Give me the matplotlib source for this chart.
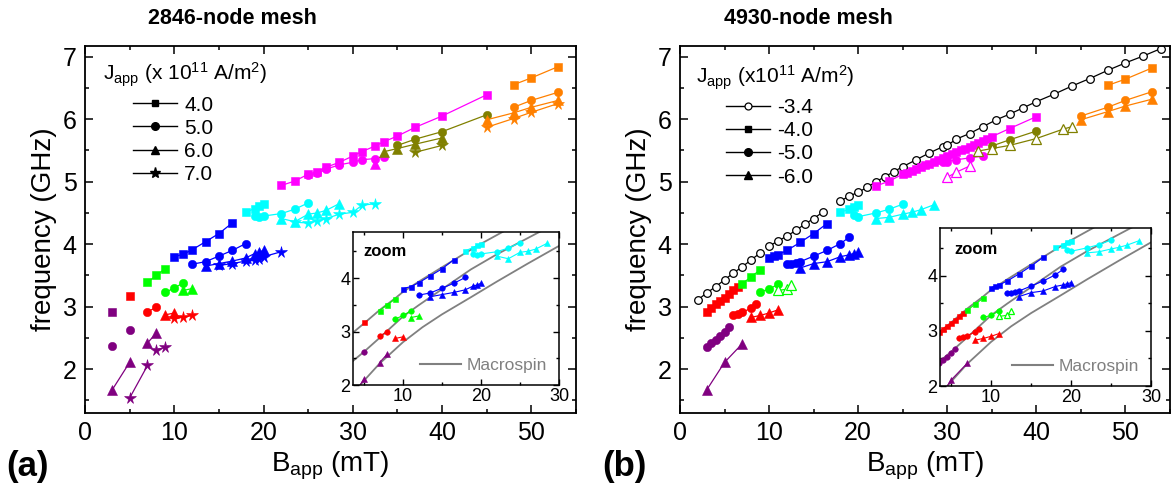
import matplotlib
matplotlib.use('Agg')
import matplotlib.pyplot as plt
from matplotlib.ticker import MultipleLocator
from matplotlib.lines import Line2D

plt.rcParams['font.family'] = ['Liberation Sans', 'DejaVu Sans']
plt.rcParams['mathtext.fontset'] = 'custom'
plt.rcParams['mathtext.rm'] = 'Liberation Sans'
plt.rcParams['mathtext.it'] = 'Liberation Sans:italic'
plt.rcParams['mathtext.bf'] = 'Liberation Sans:bold'

# ---------------- data ----------------
# each segment: (branch, B values [mT], f values [GHz], hollow marker?)
# panel (a): 2846-node mesh
A_J40 = [
    ('P', [3], [2.92]),
    ('R', [5], [3.17]),
    ('G', [7, 8, 9], [3.39, 3.50, 3.61]),
    ('B', [10, 11, 12, 13.5, 15, 16.5], [3.80, 3.84, 3.91, 4.04, 4.17, 4.34]),
    ('C', [18, 19, 19.5, 20], [4.51, 4.57, 4.61, 4.64]),
    ('M', [22, 23.5, 25, 26, 27, 28.5, 30, 31, 32.5, 33.5, 35, 37, 40, 45],
          [4.94, 5.01, 5.12, 5.16, 5.23, 5.31, 5.41, 5.48, 5.57, 5.64, 5.73, 5.87, 6.05, 6.39]),
    ('O', [48, 50, 53], [6.55, 6.66, 6.84]),
]
A_J50 = [
    ('P', [3], [2.37]),
    ('P', [5], [2.62]),
    ('R', [7, 8], [2.92, 2.99]),
    ('G', [9, 10, 11], [3.23, 3.30, 3.38]),
    ('B', [12, 13.5, 15, 16.5, 18], [3.68, 3.72, 3.81, 3.90, 4.01]),
    ('C', [19, 19.5, 20, 22, 23.5, 25], [4.45, 4.43, 4.45, 4.49, 4.56, 4.66]),
    ('M', [25, 26, 27, 28.5, 30, 31, 32.5, 33.5], [5.10, 5.14, 5.20, 5.27, 5.31, 5.35, 5.37, 5.40]),
    ('L', [35, 37, 40, 45], [5.58, 5.68, 5.80, 6.07]),
    ('O', [48, 50, 53], [6.19, 6.30, 6.43]),
]
A_J60 = [
    ('P', [3, 5], [1.66, 2.11]),
    ('P', [7, 8], [2.42, 2.58]),
    ('R', [9, 10], [2.87, 2.90]),
    ('G', [11, 12], [3.26, 3.29]),
    ('B', [13.5, 15, 16.5, 18, 19, 19.5, 20], [3.65, 3.69, 3.73, 3.78, 3.85, 3.87, 3.90]),
    ('C', [22, 23.5, 25, 26, 27, 28.5], [4.41, 4.36, 4.48, 4.50, 4.54, 4.65]),
    ('M', [32.5], [5.28]),
    ('L', [33.5, 35, 37, 40], [5.48, 5.53, 5.60, 5.70]),
    ('O', [45, 48, 50, 53], [5.99, 6.10, 6.19, 6.30]),
]
A_J70 = [
    ('P', [5, 7], [1.54, 2.06]),
    ('P', [8, 9], [2.31, 2.35]),
    ('R', [10, 11, 12], [2.82, 2.83, 2.86]),
    ('B', [15, 16.5, 18, 19, 19.5, 20, 22], [3.66, 3.69, 3.73, 3.74, 3.76, 3.80, 3.88]),
    ('C', [23.5, 25, 26, 27, 28.5, 30, 31, 32.5], [4.35, 4.34, 4.37, 4.41, 4.48, 4.51, 4.62, 4.65]),
    ('L', [37, 40], [5.47, 5.58]),
    ('O', [45, 48, 50, 53], [5.87, 6.01, 6.11, 6.25]),
]

# panel (b): 4930-node mesh
B_J34 = [
    ('K', [2, 3, 4, 5, 6, 7, 8, 9], [3.11, 3.22, 3.32, 3.43, 3.54, 3.64, 3.75, 3.86], True),
    ('K', [10, 11, 12, 13, 14, 15, 16], [3.97, 4.05, 4.13, 4.22, 4.32, 4.41, 4.51], True),
    ('K', [18, 19, 20, 21, 22, 23, 24, 25, 26.5, 28, 29.5, 30, 31, 32.5, 34, 35.5, 37, 38.5,
           40, 42, 44, 46, 48, 50, 52, 54],
          [4.69, 4.77, 4.83, 4.91, 5.00, 5.08, 5.16, 5.24, 5.35, 5.46, 5.56, 5.58, 5.68, 5.77,
           5.88, 5.99, 6.08, 6.18, 6.28, 6.40, 6.53, 6.65, 6.78, 6.90, 7.01, 7.13], True),
]
B_J40 = [
    ('R', [3, 3.5, 4, 4.5, 5, 5.5, 6, 6.5], [2.92, 2.98, 3.04, 3.09, 3.14, 3.20, 3.26, 3.32]),
    ('G', [7, 8, 9], [3.37, 3.48, 3.59]),
    ('B', [10, 10.5, 11, 12, 13.5, 15, 16.5], [3.78, 3.81, 3.83, 3.90, 4.03, 4.17, 4.33]),
    ('C', [18, 19, 19.5, 20], [4.51, 4.56, 4.60, 4.63]),
    ('M', [22, 23.5, 25, 25.5, 26, 26.5, 27, 27.5, 28, 28.5, 29, 29.5, 30, 30.5, 31, 31.5,
           32, 32.5, 33, 33.5, 34, 34.5, 35, 37, 40],
          [4.93, 5.01, 5.12, 5.14, 5.17, 5.20, 5.23, 5.26, 5.29, 5.32, 5.35, 5.38, 5.41, 5.44,
           5.47, 5.50, 5.53, 5.56, 5.59, 5.62, 5.65, 5.68, 5.72, 5.85, 6.04]),
    ('O', [48, 50, 53], [6.54, 6.64, 6.82]),
]
B_J50 = [
    ('P', [3, 3.5, 4, 4.5, 5, 5.5], [2.36, 2.42, 2.47, 2.53, 2.59, 2.67]),
    ('R', [6, 6.5, 7, 8, 8.5], [2.86, 2.88, 2.91, 2.98, 3.04]),
    ('G', [9, 10, 11], [3.24, 3.28, 3.36]),
    ('B', [12, 12.5, 13, 13.5, 15, 16.5, 18, 19], [3.68, 3.69, 3.70, 3.72, 3.81, 3.90, 4.01, 4.11]),
    ('C', [19.5, 20, 22, 23.5, 25], [4.46, 4.44, 4.50, 4.56, 4.64]),
    ('M', [29.5, 30, 31, 32.5, 34], [5.31, 5.32, 5.35, 5.38, 5.41]),
    ('L', [35, 37, 40], [5.57, 5.67, 5.81]),
    ('O', [45, 48, 50, 53], [6.05, 6.19, 6.30, 6.44]),
]
B_J60 = [
    ('P', [3, 5, 7], [1.67, 2.11, 2.41]),
    ('R', [8, 9, 10, 11], [2.83, 2.86, 2.90, 2.95]),
    ('G', [11, 12, 12.5], [3.26, 3.28, 3.35], True),
    ('B', [13.5, 15, 16.5, 18, 19, 19.5, 20], [3.62, 3.69, 3.72, 3.80, 3.83, 3.85, 3.87]),
    ('C', [22, 23.5, 25, 26, 27, 28.5], [4.41, 4.43, 4.48, 4.51, 4.55, 4.63]),
    ('M', [30, 31, 32.5], [5.07, 5.15, 5.25], True),
    ('L', [33.5, 35, 37, 40, 43, 44], [5.49, 5.53, 5.58, 5.69, 5.84, 5.88], True),
    ('O', [45, 48, 50, 53], [5.99, 6.12, 6.21, 6.32]),
]

# macrospin curves (read along the grey lines of the insets)
MS1_B = [3.6, 5, 7, 9, 10, 12, 15, 17.8, 20, 23]
MS1_F = [2.98, 3.15, 3.40, 3.62, 3.74, 3.93, 4.20, 4.45, 4.64, 4.88]
MS2_B = [3.6, 5, 7, 10, 12, 15, 18.7, 22, 25, 28]
MS2_F = [2.45, 2.62, 2.88, 3.28, 3.49, 3.79, 4.16, 4.44, 4.67, 4.90]
MS3_B = [4.3, 5, 7, 10, 12.5, 15, 18.7, 22, 26, 30]
MS3_F = [1.96, 2.08, 2.40, 2.80, 3.08, 3.32, 3.64, 3.93, 4.27, 4.60]

LEG_A = ['4.0', '5.0', '6.0', '7.0']
LEG_B = ['-3.4', '-4.0', '-5.0', '-6.0']

# ---------------- style ----------------
COLORS = {'P': '#800080', 'R': '#ff0000', 'G': '#00ff00', 'B': '#0000ff', 'C': '#00ffff',
          'M': '#ff00ff', 'L': '#808000', 'O': '#ff8000', 'K': '#000000'}
GRAY = '#808080'


def draw(ax, segs, marker, ms, lw=0.9):
    for seg in segs:
        br, xs, ys = seg[:3]
        hollow = len(seg) > 3 and seg[3]
        c = COLORS[br]
        ax.plot(xs, ys, color=c, lw=lw, marker=marker, ms=ms,
                mfc='white' if hollow else c, mec=c, mew=0.9 if hollow else 0.4,
                clip_on=True)


def style_main(ax):
    ax.set_xlim(0, 55)
    ax.set_ylim(1.3, 7.17)
    ax.xaxis.set_major_locator(MultipleLocator(10))
    ax.xaxis.set_minor_locator(MultipleLocator(5))
    ax.yaxis.set_major_locator(MultipleLocator(1))
    ax.yaxis.set_minor_locator(MultipleLocator(0.5))
    ax.tick_params(which='both', direction='in', top=True, right=True, width=1.1)
    ax.tick_params(which='major', length=6, labelsize=18, pad=6)
    ax.tick_params(which='minor', length=3)
    for s in ax.spines.values():
        s.set_linewidth(1.3)
    ax.set_xlabel(r'B$_{\rm app}$ (mT)', fontsize=20, labelpad=3)
    ax.set_ylabel('frequency (GHz)', fontsize=20, labelpad=4)


def style_inset(ax, zx, zy):
    ax.set_xlim(3.6, 30)
    ax.set_ylim(2, 4.86)
    ax.xaxis.set_major_locator(MultipleLocator(10))
    ax.xaxis.set_minor_locator(MultipleLocator(5))
    ax.yaxis.set_major_locator(MultipleLocator(1))
    ax.yaxis.set_minor_locator(MultipleLocator(0.5))
    ax.tick_params(which='both', direction='in', top=True, right=True, width=1.0)
    ax.tick_params(which='major', length=4, labelsize=13, pad=2)
    ax.tick_params(which='minor', length=2)
    for s in ax.spines.values():
        s.set_linewidth(1.1)
    for bx, fy in ((MS1_B, MS1_F), (MS2_B, MS2_F), (MS3_B, MS3_F)):
        ax.plot(bx, fy, color=GRAY, lw=1.3, zorder=1)
    ax.text(zx, zy, 'zoom', transform=ax.transAxes, fontsize=12, fontweight='bold',
            ha='left', va='center')
    ax.legend(handles=[Line2D([], [], color=GRAY, lw=1.5)], labels=['Macrospin'],
              loc='lower right', frameon=False, fontsize=12.5, labelcolor=GRAY,
              handlelength=2.4, handletextpad=0.3, borderaxespad=0.3)


fig = plt.figure(figsize=(11.73, 4.90), dpi=100)
axA = fig.add_axes([85 / 1173, 1 - 413 / 490, 491 / 1173, 367 / 490])
axB = fig.add_axes([680 / 1173, 1 - 413 / 490, 490 / 1173, 367 / 490])

# main panels
draw(axA, A_J40, 's', 5.5)
draw(axA, A_J50, 'o', 6)
draw(axA, A_J60, '^', 6.5)
draw(axA, A_J70, '*', 8.5)
draw(axB, B_J34, 'o', 5.5)
draw(axB, B_J40, 's', 5.5)
draw(axB, B_J50, 'o', 6)
draw(axB, B_J60, '^', 6.5)
style_main(axA)
style_main(axB)

# legends
hA = [Line2D([], [], color='k', lw=1, marker=m, ms=s) for m, s in
      (('s', 5), ('o', 5.5), ('^', 6), ('*', 8))]
lgA = axA.legend(hA, LEG_A, loc='upper left', bbox_to_anchor=(0.098, 0.865), frameon=False,
                 fontsize=15, handlelength=2.1, handletextpad=0.35, labelspacing=0.2,
                 borderpad=0, borderaxespad=0)
axA.text(0.037, 0.921, r'J$_{\rm app}$ (x 10$^{11}$ A/m$^2$)', transform=axA.transAxes,
         fontsize=15, ha='left', va='center')

hB = [Line2D([], [], color='k', lw=1, marker='o', ms=5, mfc='white', mew=0.9),
      Line2D([], [], color='k', lw=1, marker='s', ms=5),
      Line2D([], [], color='k', lw=1, marker='o', ms=5.5),
      Line2D([], [], color='k', lw=1, marker='^', ms=6)]
lgB = axB.legend(hB, LEG_B, loc='upper left', bbox_to_anchor=(0.094, 0.858), frameon=False,
                 fontsize=15, handlelength=2.1, handletextpad=0.35, labelspacing=0.2,
                 borderpad=0, borderaxespad=0)
axB.text(0.033, 0.913, r'J$_{\rm app}$ (x10$^{11}$ A/m$^2$)', transform=axB.transAxes,
         fontsize=15, ha='left', va='center')

# insets
insA = fig.add_axes([353 / 1173, 1 - 385 / 490, 206 / 1173, 153 / 490])
draw(insA, A_J40, 's', 3.6, lw=0.8)
draw(insA, A_J50, 'o', 4, lw=0.8)
draw(insA, A_J60, '^', 4.5, lw=0.8)
style_inset(insA, 0.05, 0.87)

insB = fig.add_axes([940 / 1173, 1 - 386 / 490, 211 / 1173, 158 / 490])
draw(insB, B_J40, 's', 3.6, lw=0.8)
draw(insB, B_J50, 'o', 4, lw=0.8)
draw(insB, B_J60, '^', 4.5, lw=0.8)
style_inset(insB, 0.066, 0.867)

# titles and panel labels
fig.text(232 / 1173, 1 - 18 / 490, '2846-node mesh', fontsize=15.5, fontweight='bold',
         ha='center', va='center')
fig.text(808 / 1173, 1 - 18 / 490, '4930-node mesh', fontsize=15.5, fontweight='bold',
         ha='center', va='center')
fig.text(28 / 1173, 1 - 466 / 490, '(a)', fontsize=25, fontweight='bold', ha='center', va='center')
fig.text(624 / 1173, 1 - 466 / 490, '(b)', fontsize=25, fontweight='bold', ha='center', va='center')

fig.savefig('out.png', dpi=100)
